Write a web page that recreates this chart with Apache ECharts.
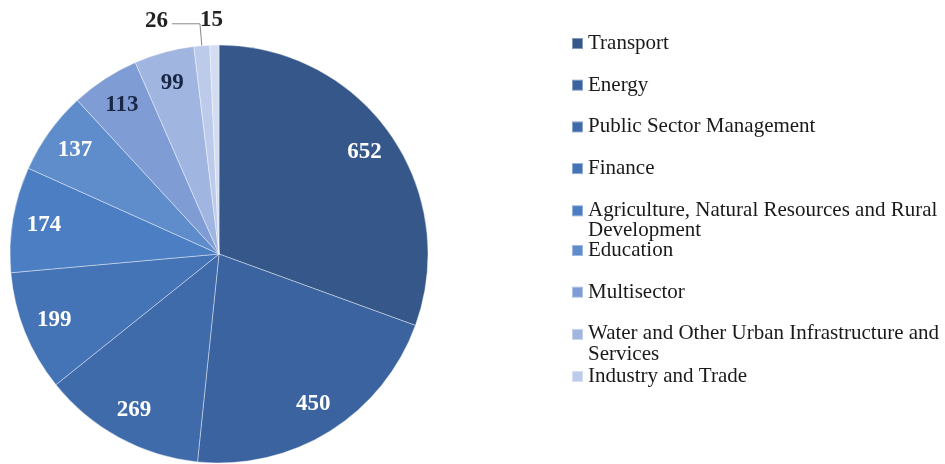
<!DOCTYPE html>
<html><head><meta charset="utf-8">
<script src="https://cdn.jsdelivr.net/npm/echarts@6/dist/echarts.min.js"></script>
<style>html,body{margin:0;padding:0;background:#fff}#c{width:945px;height:464px}</style>
</head><body><div id="c"></div>
<script>
const sectors = ['Transport','Energy','Public Sector Management','Finance','Agriculture, Natural Resources and Rural Development','Education','Multisector','Water and Other Urban Infrastructure and Services','Industry and Trade','Others'];
const values = [652,450,269,199,174,137,113,99,26,15];
const legendGroups = [sectors.slice(0,5), sectors.slice(5,8), sectors.slice(8,9)];
const colors = ['#36578a','#3b63a0','#3f6bab','#4473b6','#4b7ec2','#5f8dcc','#7f9dd4','#a0b5df','#bdcbea','#d3dcf0'];
const labelColors = ['#fff','#fff','#fff','#fff','#fff','#fff','#1a2645','#1a2645','#222','#222'];

const center = [219, 254];
const R = 209;
const legendTops = [33, 240, 366];

const mainData = values.map((v,i)=>({name:sectors[i], value:v, itemStyle:{color:colors[i]}}));
const labelData = values.map((v,i)=>{
  const d = {name:sectors[i], value:v, label:{color:labelColors[i]}};
  if (i===8) {
    d.label = {position:'outside', color:labelColors[i], distanceToLabelLine:4, offset:[0,-3]};
    d.labelLine = {show:true, length:22, length2:28, lineStyle:{color:'#8a8a8a', width:1}};
  }
  if (i===9) {
    d.label = {position:'outside', color:labelColors[i], offset:[22,-3]};
    d.labelLine = {show:false, length:22, length2:8};
  }
  return d;
});

function legendFmt(name){
  if (name.length > 40) {
    const k = name.lastIndexOf(' ');
    return '{a|' + name.slice(0,k) + '}\n{b|' + name.slice(k+1) + '}';
  }
  return '{a|' + name + '}';
}

const legends = legendGroups.map((g,j)=>({
  orient:'vertical', left:571, top:legendTops[j], padding:0,
  data:g,
  icon:'rect', itemWidth:11, itemHeight:11, itemGap:20.7,
  selectedMode:false,
  formatter:legendFmt,
  textStyle:{fontFamily:'Liberation Serif', fontSize:21, color:'#1a1a1a',
    rich:{
      a:{fontFamily:'Liberation Serif', fontSize:21, color:'#1a1a1a', lineHeight:20},
      b:{fontFamily:'Liberation Serif', fontSize:21, color:'#1a1a1a', lineHeight:1, verticalAlign:'top'}
    }
  }
}));

const chart = echarts.init(document.getElementById('c'), null, {renderer:'canvas'});
chart.setOption({
  animation:false,
  backgroundColor:'#fff',
  legend:legends,
  series:[
    {
      type:'pie', center:center, radius:[0,R], startAngle:90, clockwise:true,
      avoidLabelOverlap:false, silent:true,
      label:{show:false}, labelLine:{show:false},
      itemStyle:{borderColor:'rgba(255,255,255,0.4)', borderWidth:1},
      data:mainData
    },
    {
      type:'pie', center:center, radius:[140,R], startAngle:90, clockwise:true,
      avoidLabelOverlap:false, silent:true,
      itemStyle:{color:'rgba(0,0,0,0)', borderWidth:0},
      label:{show:true, position:'inside', fontFamily:'Liberation Serif', fontWeight:'bold', fontSize:23, formatter:'{c}'},
      labelLine:{show:false},
      data:labelData
    }
  ]
});
</script>
</body></html>
